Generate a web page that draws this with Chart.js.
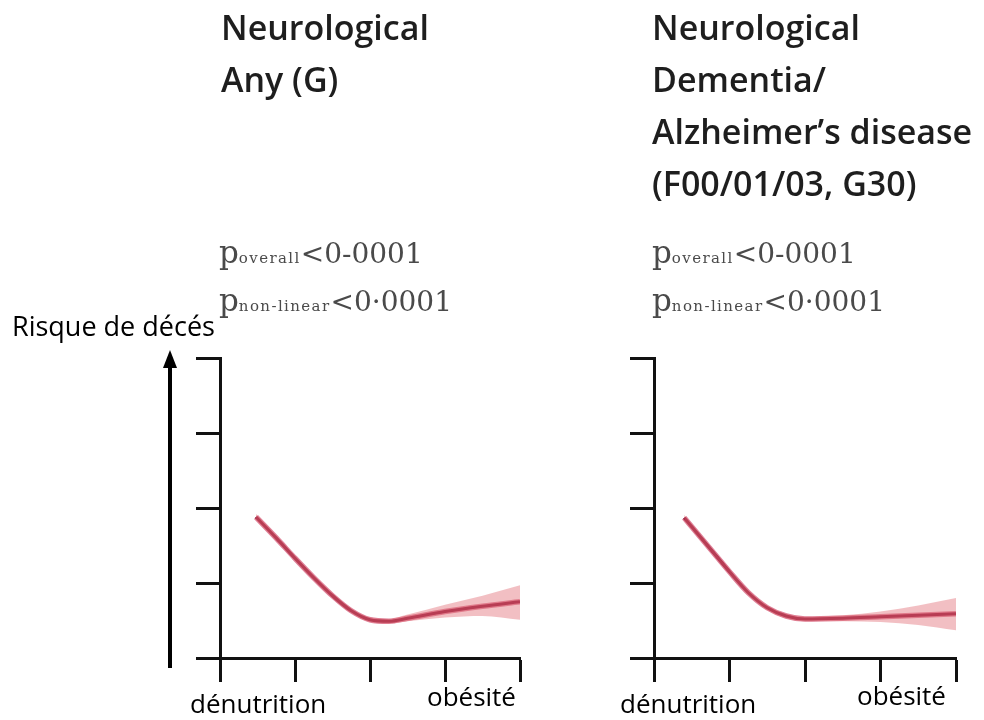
<!DOCTYPE html>
<html>
<head>
<meta charset="utf-8">
<script src="https://cdn.jsdelivr.net/npm/chart.js@4/dist/chart.umd.min.js"></script>
<style>
  html, body { margin:0; padding:0; background:#fff; }
  #wrap { position:relative; width:984px; height:720px; overflow:hidden; background:#fff; }
  canvas.full { position:absolute; left:0; top:0; }
  .title { position:absolute; font-family:"Open Sans", sans-serif; font-weight:600; font-size:34px; line-height:52px; color:#1e1e1e; white-space:nowrap; }
  .pv { position:absolute; font-family:"DejaVu Serif", serif; font-size:28px; line-height:28px; height:28px; color:#4a4a4a; white-space:nowrap; }
  .pv .pp { font-size:31px; }
  .pv .sub { font-size:15px; letter-spacing:1.4px; }
  .lbl { position:absolute; font-family:"Open Sans", sans-serif; font-size:26px; line-height:26px; color:#000; white-space:nowrap; }
</style>
</head>
<body>
<div id="wrap">
  <canvas id="c1" class="full" width="984" height="720"></canvas>
  <canvas id="c2" class="full" width="984" height="720"></canvas>
  <div class="title" id="t1" style="left:221px; top:1px;"></div>
  <div class="title" id="t2" style="left:652px; top:1px;"></div>
  <div class="pv" id="p1a" style="left:219px; top:238px;"></div>
  <div class="pv" id="p1b" style="left:219px; top:286px;"></div>
  <div class="pv" id="p2a" style="left:652px; top:238px;"></div>
  <div class="pv" id="p2b" style="left:652px; top:286px;"></div>
  <div class="lbl" style="left:12px; top:312px; font-size:27px; line-height:27px;">Risque de décés</div>
  <div class="lbl" style="left:190px; top:690px;">dénutrition</div>
  <div class="lbl" style="left:427px; top:683px;">obésité</div>
  <div class="lbl" style="left:620px; top:690px;">dénutrition</div>
  <div class="lbl" style="left:857px; top:682px;">obésité</div>
</div>
<script>
// ---- Data ----
const titleLeft = ["Neurological", "Any (G)"];
const titleRight = ["Neurological", "Dementia/", "Alzheimer\u2019s disease", "(F00/01/03, G30)"];
const pOverall = "<0-0001";
const pNonLinear = "<0\u00b70001";
const axisTicks = [0, 1, 2, 3, 4];

const xLeft     = [0.48, 0.75, 1.00, 1.25, 1.50, 1.75, 2.00, 2.25, 2.50, 3.00, 3.50, 4.00];
const riskLeft  = [1.88, 1.60, 1.33, 1.07, 0.83, 0.63, 0.51, 0.49, 0.53, 0.62, 0.69, 0.75];
const upperLeft = [1.92, 1.63, 1.36, 1.10, 0.86, 0.66, 0.54, 0.52, 0.58, 0.71, 0.83, 0.97];
const lowerLeft = [1.84, 1.57, 1.30, 1.04, 0.80, 0.60, 0.48, 0.46, 0.49, 0.54, 0.56, 0.51];

const xRight     = [0.40, 0.75, 1.00, 1.25, 1.50, 1.75, 2.00, 2.50, 3.00, 3.50, 4.00];
const riskRight  = [1.87, 1.45, 1.15, 0.87, 0.67, 0.56, 0.52, 0.53, 0.55, 0.57, 0.59];
const upperRight = [1.91, 1.48, 1.18, 0.90, 0.70, 0.59, 0.55, 0.57, 0.62, 0.70, 0.80];
const lowerRight = [1.83, 1.42, 1.12, 0.84, 0.64, 0.53, 0.49, 0.49, 0.48, 0.44, 0.37];

// ---- Text ----
document.getElementById('t1').innerHTML = titleLeft.join('<br>');
document.getElementById('t2').innerHTML = titleRight.join('<br>');
const esc = s => s.replace(/</g, '&lt;');
const pLine = (sub, val) => '<span class="pp">p</span><span class="sub">' + sub + '</span>' + esc(val);
['p1a', 'p2a'].forEach(id => document.getElementById(id).innerHTML = pLine('overall', pOverall));
['p1b', 'p2b'].forEach(id => document.getElementById(id).innerHTML = pLine('non-linear', pNonLinear));

// ---- Charts ----
const LINE_CORE = '#5c0a24';
const LINE_HALO = 'rgba(196,28,68,0.55)';
const BAND = 'rgba(226,112,122,0.45)';
const pts = (xs, ys) => xs.map((x, i) => ({ x: x, y: ys[i] }));

function axisOpts() {
  return {
    type: 'linear', min: 0, max: 4,
    afterBuildTicks: axis => { axis.ticks = axisTicks.map(v => ({ value: v })); },
    ticks: { display: false },
    grid: { drawOnChartArea: false, drawTicks: true, tickLength: 24, tickColor: '#111', tickWidth: 3 },
    border: { display: true, color: '#111', width: 3 }
  };
}

const arrowPlugin = {
  id: 'arrow',
  afterDraw(chart, args, opts) {
    if (!opts.show) return;
    const ca = chart.chartArea, ctx = chart.ctx;
    const x = ca.left - 50, yb = ca.bottom + 10, yt = ca.top - 8;
    ctx.save();
    ctx.strokeStyle = '#000'; ctx.fillStyle = '#000'; ctx.lineWidth = 4;
    ctx.beginPath(); ctx.moveTo(x, yb); ctx.lineTo(x, yt + 14); ctx.stroke();
    ctx.beginPath(); ctx.moveTo(x, yt); ctx.lineTo(x - 7, yt + 18); ctx.lineTo(x + 7, yt + 18); ctx.closePath(); ctx.fill();
    ctx.restore();
  }
};

function makeChart(id, xs, ys, up, lo, padding, arrow) {
  const common = { pointRadius: 0, fill: false, cubicInterpolationMode: 'monotone' };
  return new Chart(document.getElementById(id), {
    type: 'line',
    data: {
      datasets: [
        { ...common, data: pts(xs, up), borderWidth: 0, backgroundColor: BAND, fill: '+1' },
        { ...common, data: pts(xs, lo), borderWidth: 0 },
        { ...common, data: pts(xs, ys), borderColor: LINE_HALO, borderWidth: 5.5 },
        { ...common, data: pts(xs, ys), borderColor: LINE_CORE, borderWidth: 3 }
      ]
    },
    options: {
      responsive: false, animation: false, devicePixelRatio: 1,
      layout: { padding: padding, autoPadding: false },
      plugins: { legend: { display: false }, tooltip: { enabled: false }, arrow: { show: arrow } },
      scales: { x: axisOpts(), y: axisOpts() }
    },
    plugins: [arrowPlugin]
  });
}

makeChart('c1', xLeft, riskLeft, upperLeft, lowerLeft, { left: 196, right: 464, top: 358, bottom: 38 }, true);
makeChart('c2', xRight, riskRight, upperRight, lowerRight, { left: 630, right: 28, top: 358, bottom: 38 }, false);
</script>
</body>
</html>
